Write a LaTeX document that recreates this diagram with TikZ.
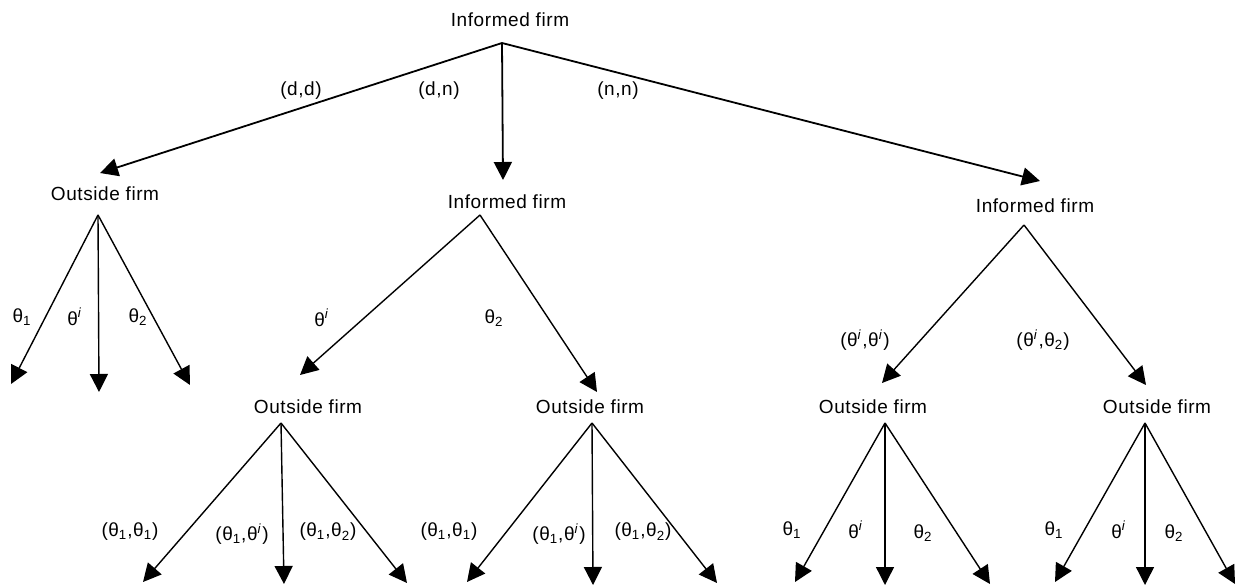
\documentclass[tikz,border=0pt]{standalone}
\usepackage{fontspec}
\setmainfont{Liberation Sans}[LetterSpace=3]
\usetikzlibrary{arrows.meta}
\newcommand{\thI}{θ\textsuperscript{\textit{i}}}
\newcommand{\thO}{θ\textsubscript{1}}
\newcommand{\thT}{θ\textsubscript{2}}

\begin{document}
\begin{tikzpicture}[x=0.5pt,y=-0.5pt,>={Triangle[length=9pt,width=9pt]},
  every node/.style={font=\fontsize{9.5}{11}\selectfont,inner sep=0pt},
  move/.style={->,line width=0.9pt},
  choice/.style={->,line width=0.7pt}]
\useasboundingbox (0,0) rectangle (1241,588);
% players
\node (root) at (510,20) {Informed firm};
\node (out1) at (105,194) {Outside firm};
\node (inf1) at (507,202) {Informed firm};
\node (inf2) at (1035,206) {Informed firm};
\node (out2) at (308,407) {Outside firm};
\node (out3) at (590,407) {Outside firm};
\node (out4) at (873,407) {Outside firm};
\node (out5) at (1157,407) {Outside firm};
% branch points and tips
\coordinate (rootb) at (502,43);
\coordinate (out1t) at (100,173);
\coordinate (inf1t) at (503,180);
\coordinate (inf2t) at (1040,181);
\coordinate (out1b) at (98,215);
\coordinate (inf1b) at (480,215);
\coordinate (inf2b) at (1024,225);
\coordinate (out2t) at (300,375);
\coordinate (out3t) at (597,392);
\coordinate (out4t) at (882,383);
\coordinate (out5t) at (1146,385);
\coordinate (out2b) at (281,423);
\coordinate (out3b) at (592,423);
\coordinate (out4b) at (885,423);
\coordinate (out5b) at (1145,423);
\coordinate (l11) at (11,384);
\coordinate (l12) at (99,392);
\coordinate (l13) at (190,385);
\coordinate (l21) at (143,582);
\coordinate (l22) at (284,584);
\coordinate (l23) at (407,583);
\coordinate (l31) at (467,582);
\coordinate (l32) at (593,585);
\coordinate (l33) at (717,583);
\coordinate (l41) at (795,582);
\coordinate (l42) at (885,585);
\coordinate (l43) at (990,584);
\coordinate (l51) at (1055,582);
\coordinate (l52) at (1145,585);
\coordinate (l53) at (1235,584);
% moves
\path[move] (rootb) edge (out1t) edge (inf1t) edge (inf2t);
\path[choice] (out1b) edge (l11) edge (l12) edge (l13)
      (inf1b) edge (out2t) edge (out3t)
      (inf2b) edge (out4t) edge (out5t)
      (out2b) edge (l21) edge (l22) edge (l23)
      (out3b) edge (l31) edge (l32) edge (l33)
      (out4b) edge (l41) edge (l42) edge (l43)
      (out5b) edge (l51) edge (l52) edge (l53);
% labels
\node (dd) at (301,91) {(d,d)};
\node (dn) at (439,91) {(d,n)};
\node (nn) at (618,91) {(n,n)};
\node (a11) at (22,317) {\thO};
\node (a12) at (75,317) {\thI};
\node (a13) at (138,317) {\thT};
\node (b11) at (322,318) {\thI};
\node (b12) at (494,318) {\thT};
\node (b21) at (865,340) {(\thI,\thI)};
\node (b22) at (1043,340) {(\thI,\thT)};
\node (a21) at (130,532) {(\thO,\thO)};
\node (a22) at (242,534) {(\thO,\thI)};
\node (a23) at (328,532) {(\thO,\thT)};
\node (a31) at (449,532) {(\thO,\thO)};
\node (a32) at (559,534) {(\thO,\thI)};
\node (a33) at (643,532) {(\thO,\thT)};
\node (a41) at (792,530) {\thO};
\node (a42) at (856,530) {\thI};
\node (a43) at (923,533) {\thT};
\node (a51) at (1054,530) {\thO};
\node (a52) at (1119,530) {\thI};
\node (a53) at (1174,533) {\thT};
\end{tikzpicture}
\end{document}
